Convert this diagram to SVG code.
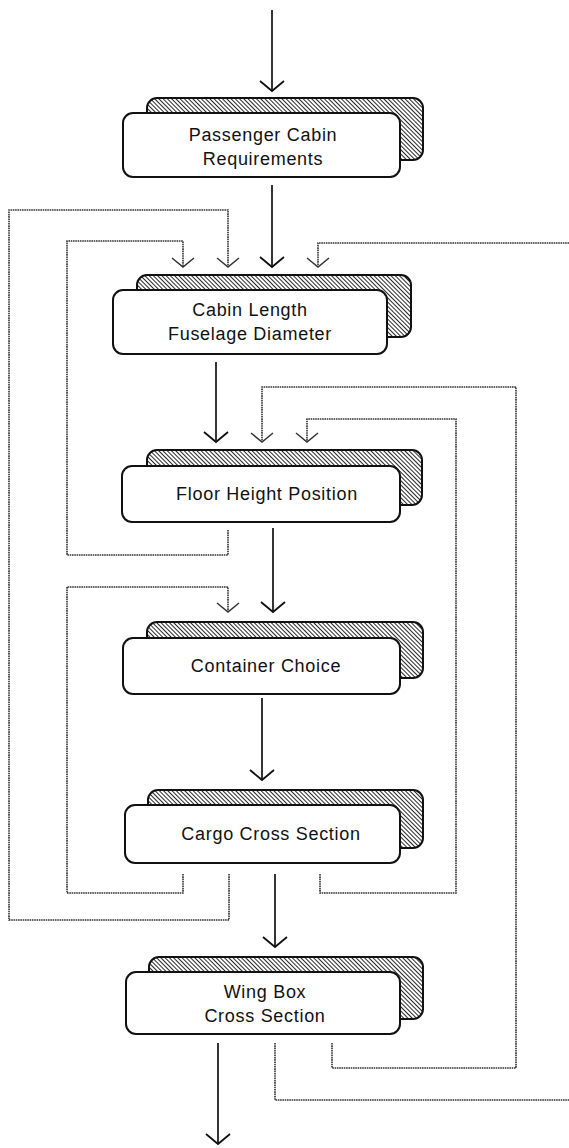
<svg xmlns="http://www.w3.org/2000/svg" width="569" height="1148" viewBox="0 0 569 1148">
<style>
.front{fill:#fff;stroke:#111;stroke-width:2}
.shadow{fill:url(#hatch);stroke:#111;stroke-width:2}
.lbl{font-family:"Liberation Sans",Arial,sans-serif;font-size:18px;fill:#111;text-anchor:middle;letter-spacing:0.7px}
.flow{fill:none;stroke:#111;stroke-width:1.7;marker-end:url(#arr)}
.fb{fill:none;stroke:#333;stroke-width:1.6;stroke-dasharray:1.6 0.7}
.fba{fill:none;stroke:#333;stroke-width:1.6;stroke-dasharray:1.6 0.7;marker-end:url(#arrd)}
</style>
<defs>
<pattern id="hatch" patternUnits="userSpaceOnUse" width="3" height="3" patternTransform="rotate(-45)">
<rect width="3" height="3" fill="#fff"/>
<line x1="0" y1="0" x2="0" y2="3" stroke="#111" stroke-width="1.8"/>
</pattern>
<marker id="arr" markerUnits="userSpaceOnUse" markerWidth="30" markerHeight="30" refX="0" refY="0" orient="auto" viewBox="-15 -15 30 30" overflow="visible">
<path d="M-10,-12 L0,0 L-10,12" fill="none" stroke="#111" stroke-width="1.8"/>
</marker>
<marker id="arrd" markerUnits="userSpaceOnUse" markerWidth="30" markerHeight="30" refX="0" refY="0" orient="auto" viewBox="-15 -15 30 30" overflow="visible">
<path d="M-9,-11 L0,0 L-9,11" fill="none" stroke="#333" stroke-width="1.5"/>
</marker>
</defs>
<g id="connectors">
<path class="flow" d="M272,10 V91"/>
<path class="flow" d="M272,185 V267"/>
<path class="flow" d="M216,362 V442"/>
<path class="flow" d="M273,528 V612"/>
<path class="flow" d="M262,698 V780"/>
<path class="flow" d="M275,874 V947"/>
<path class="flow" d="M218,1043 V1144"/>
<path class="fba" d="M229,874 V920 H9 V210 H228 V267"/>
<path class="fba" d="M228,530 V555 H67 V241 H183 V267"/>
<path class="fba" d="M183,874 V893 H67 V587 H228 V612"/>
<path class="fba" d="M320,874 V893 H456 V419 H307 V442"/>
<path class="fba" d="M332,1043 V1068 H516 V387 H262 V442"/>
<path class="fb" d="M275,1043 V1100 H569"/>
<path class="fba" d="M569,243 H318 V267"/>
</g>
<g id="n1">
<rect class="shadow" x="147" y="98" width="276" height="62" rx="10"/>
<rect class="front" x="123" y="113" width="277" height="64" rx="10"/>
<text class="lbl" x="263" y="141">Passenger Cabin</text>
<text class="lbl" x="263" y="165">Requirements</text>
</g>
<g id="n2">
<rect class="shadow" x="137" y="275" width="274" height="62" rx="10"/>
<rect class="front" x="113" y="290" width="274" height="64" rx="10"/>
<text class="lbl" x="250" y="316">Cabin Length</text>
<text class="lbl" x="250" y="340">Fuselage Diameter</text>
</g>
<g id="n3">
<rect class="shadow" x="147" y="450" width="275" height="55" rx="10"/>
<rect class="front" x="122" y="466" width="278" height="56" rx="10"/>
<text class="lbl" x="267" y="500">Floor Height Position</text>
</g>
<g id="n4">
<rect class="shadow" x="147" y="622" width="276" height="56" rx="10"/>
<rect class="front" x="123" y="638" width="277" height="56" rx="10"/>
<text class="lbl" x="266" y="672">Container Choice</text>
</g>
<g id="n5">
<rect class="shadow" x="148" y="790" width="275" height="58" rx="10"/>
<rect class="front" x="125" y="805" width="275" height="58" rx="10"/>
<text class="lbl" x="271" y="840">Cargo Cross Section</text>
</g>
<g id="n6">
<rect class="shadow" x="149" y="957" width="274" height="62" rx="10"/>
<rect class="front" x="126" y="972" width="274" height="62" rx="10"/>
<text class="lbl" x="265" y="998">Wing Box</text>
<text class="lbl" x="265" y="1022">Cross Section</text>
</g>
</svg>
